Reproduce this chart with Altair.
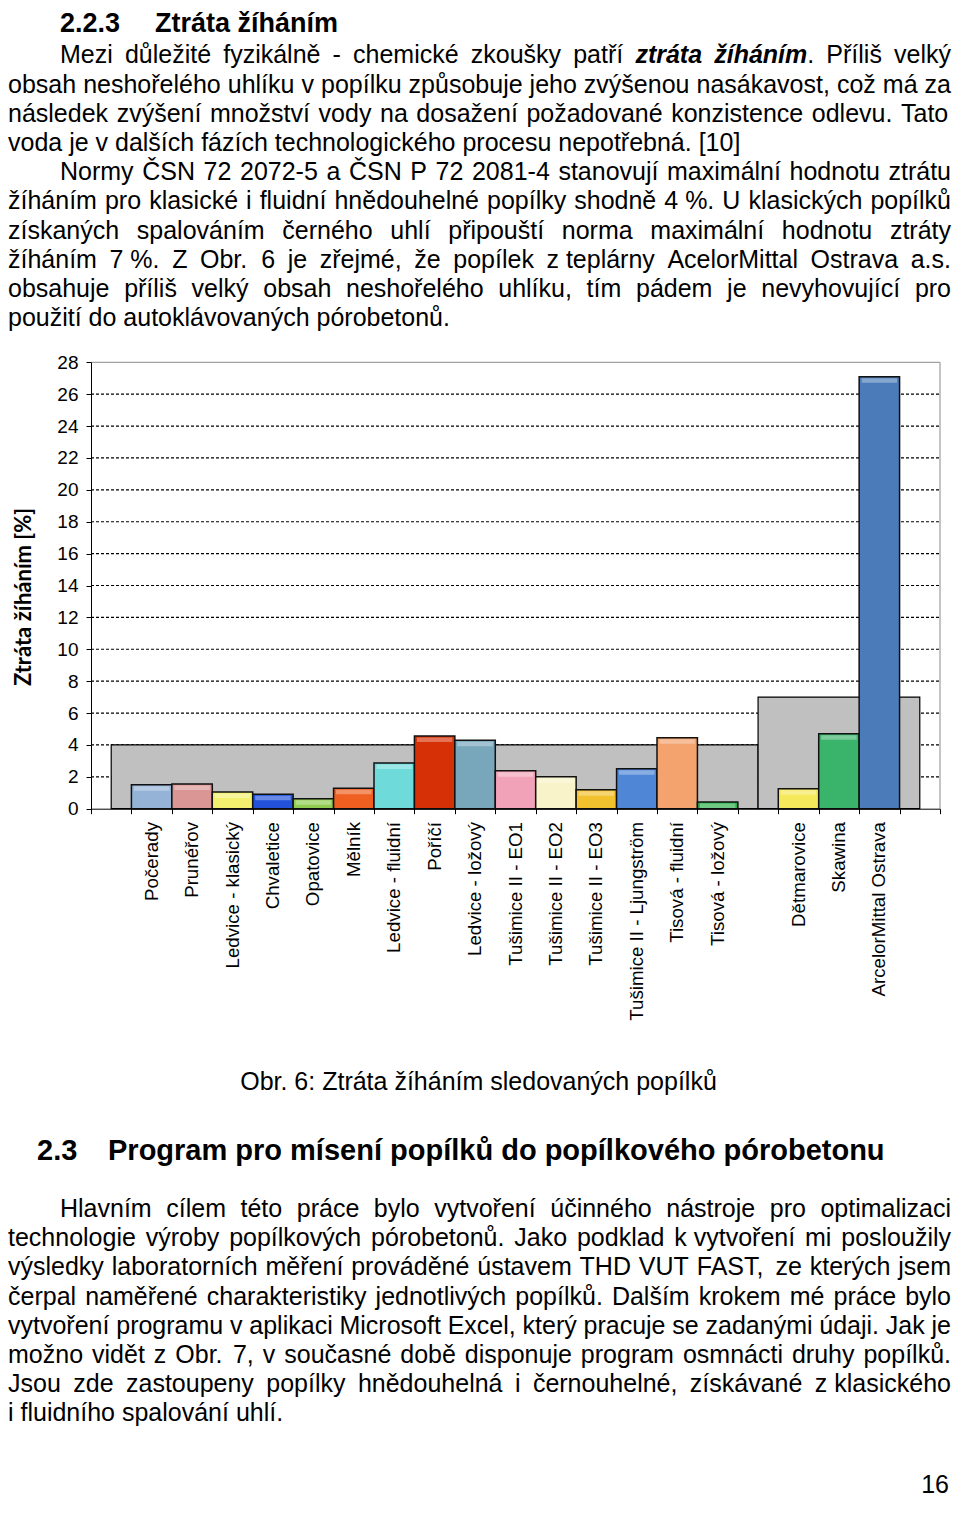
import re
import unicodedata
import pandas as pd
import altair as alt

# ------------------------------------------------------------------ chart data
categories = ["", "Počerady", "Prunéřov", "Ledvice - klasický", "Chvaletice", "Opatovice",
              "Mělník", "Ledvice - fluidní", "Poříčí", "Ledvice - ložový",
              "Tušimice II  - EO1", "Tušimice II - EO2", "Tušimice II - EO3",
              "Tušimice II - Ljungström", "Tisová - fluidní", "Tisová - ložový", "",
              "Dětmarovice", "Skawina", "ArcelorMittal Ostrava", ""]
loss_values = [None, 1.5, 1.55, 1.05, 0.9, 0.63, 1.28, 2.87, 4.56, 4.3, 2.38, 2.0,
               1.19, 2.5, 4.45, 0.42, None, 1.25, 4.7, 27.1, None]
bar_colors = [None, "#95b3d7", "#d99694", "#f2f06e", "#2152d9", "#8fcc4f", "#ef5f1f",
              "#6fdada", "#d63006", "#78a6bb", "#f2a2b8", "#f8f3c8", "#f2c12e",
              "#4f87d6", "#f4a26e", "#2bb04a", None, "#f5e85a", "#3bb46b", "#4b7cb9"]
limit_values = [4, 7]       # limit of loss on ignition: brown coal 4 %, black coal 7 %
limit_start = [0, 16]       # category (centre) where each limit band starts
limit_end = [16, 20]        # category (centre) where each limit band ends
y_ticks = list(range(0, 29, 2))
grid_values = list(range(2, 27, 2))
y_title = "Ztráta žíháním [%]"

# ------------------------------------------------------------------ page text
heading_1 = ["2.2.3", "Ztráta žíháním"]
paragraph_1 = [
    "Mezi důležité fyzikálně - chemické zkoušky patří **ztráta** **žíháním**. Příliš velký",
    "obsah neshořelého uhlíku v popílku způsobuje jeho zvýšenou nasákavost, což má za",
    "následek zvýšení množství vody na dosažení požadované konzistence odlevu. Tato",
    "voda je v dalších fázích technologického procesu nepotřebná. [10]",
]
paragraph_2 = [
    "Normy ČSN 72 2072-5 a ČSN P 72 2081-4 stanovují maximální hodnotu ztrátu",
    "žíháním pro klasické i fluidní hnědouhelné popílky shodně 4~%. U klasických popílků",
    "získaných spalováním černého uhlí připouští norma maximální hodnotu ztráty",
    "žíháním 7~%. Z Obr. 6 je zřejmé, že popílek z~teplárny AcelorMittal Ostrava a.s.",
    "obsahuje příliš velký obsah neshořelého uhlíku, tím pádem je nevyhovující pro",
    "použití do autoklávovaných pórobetonů.",
]
caption = "Obr. 6: Ztráta žíháním sledovaných popílků"
heading_2 = ["2.3", "Program pro mísení popílků do popílkového pórobetonu"]
paragraph_3 = [
    "Hlavním cílem této práce bylo vytvoření účinného nástroje pro optimalizaci",
    "technologie výroby popílkových pórobetonů. Jako podklad k~vytvoření mi posloužily",
    "výsledky laboratorních měření prováděné ústavem THD VUT FAST, ze kterých jsem",
    "čerpal naměřené charakteristiky jednotlivých popílků. Dalším krokem mé práce bylo",
    "vytvoření programu v aplikaci Microsoft Excel, který pracuje se zadanými údaji. Jak je",
    "možno vidět z Obr. 7, v současné době disponuje program osmnácti druhy popílků.",
    "Jsou zde zastoupeny popílky hnědouhelná i černouhelné, získávané z~klasického",
    "i fluidního spalování uhlí.",
]
page_number = "16"

# ------------------------------------------------------------------ layout
W, H = 944, 1492
FONT = "Liberation Sans"
BODY = 25


def cx(px):          # page x -> chart x
    return px - 8


def cy(py):          # page y -> chart y
    return py - 8


REG = {" ": 278, "%": 889, "(": 333, ")": 333, ",": 278, "-": 333, ".": 278, ":": 278,
       "[": 278, "]": 278,
       "A": 667, "B": 667, "C": 722, "D": 722, "E": 667, "F": 611, "G": 778, "H": 722,
       "I": 278, "J": 500, "K": 667, "L": 556, "M": 833, "N": 722, "O": 778, "P": 667,
       "Q": 778, "R": 722, "S": 667, "T": 611, "U": 722, "V": 667, "W": 944, "X": 667,
       "Y": 667, "Z": 611,
       "a": 556, "b": 556, "c": 500, "d": 556, "e": 556, "f": 278, "g": 556, "h": 556,
       "i": 222, "j": 222, "k": 500, "l": 222, "m": 833, "n": 556, "o": 556, "p": 556,
       "q": 556, "r": 333, "s": 500, "t": 278, "u": 556, "v": 500, "w": 722, "x": 500,
       "y": 500, "z": 500}
BOLD = {" ": 278, "%": 889, ",": 278, "-": 333, ".": 278, "[": 333, "]": 333,
        "a": 556, "b": 611, "c": 556, "d": 611, "e": 556, "f": 333, "g": 611, "h": 611,
        "i": 278, "j": 278, "k": 556, "l": 278, "m": 889, "n": 611, "o": 611, "p": 611,
        "q": 611, "r": 389, "s": 556, "t": 333, "u": 611, "v": 556, "w": 778, "x": 556,
        "y": 556, "z": 500, "P": 667, "Z": 611}


def seg_width(text, bold, size):
    table = BOLD if bold else REG
    total = 0
    for ch in text:
        if not bold and ch in "íìîï":
            total += 278
            continue
        base = unicodedata.normalize("NFD", ch)[0]
        total += table.get(base, 556)
    return total * size / 1000.0


def layout_lines(lines, baselines, first_left, left, right, size, rows):
    for k, (line, base_y) in enumerate(zip(lines, baselines)):
        words = []
        for tok in line.split(" "):
            segs = []
            for part in re.split(r"(\*\*.+?\*\*)", tok):
                if not part:
                    continue
                if part.startswith("**"):
                    segs.append((part[2:-2].replace("~", " "), "bi"))
                else:
                    segs.append((part.replace("~", " "), "reg"))
            words.append(segs)
        widths = [sum(seg_width(t, s == "bi", size) for t, s in w) for w in words]
        x0 = first_left if k == 0 else left
        if k == len(lines) - 1 or len(words) == 1:
            gap = seg_width(" ", False, size)
        else:
            gap = (right - x0 - sum(widths)) / (len(words) - 1)
        x = x0
        for w, wd in zip(words, widths):
            xx = x
            for t, s in w:
                rows.append({"x": xx, "y": base_y, "text": t, "style": s})
                xx += seg_width(t, s == "bi", size)
            x += wd + gap


rows = []
RIGHT = W - 1
top_base = [cy(63.3 + 29.2 * i) for i in range(len(paragraph_1) + len(paragraph_2))]
layout_lines(paragraph_1, top_base[:4], cx(60), 0, RIGHT, BODY, rows)
layout_lines(paragraph_2, top_base[4:], cx(60), 0, RIGHT, BODY, rows)
bottom_base = [cy(1217 + 29.2 * i) for i in range(len(paragraph_3))]
layout_lines(paragraph_3, bottom_base, cx(60), 0, RIGHT, BODY, rows)
text_df = pd.DataFrame(rows)
reg_df = text_df[text_df["style"] == "reg"]
bi_df = text_df[text_df["style"] == "bi"]

head_df = pd.DataFrame([
    {"x": cx(60), "y": 24, "text": heading_1[0], "size": 27},
    {"x": cx(155), "y": 24, "text": heading_1[1], "size": 27},
    {"x": cx(37), "y": cy(1160), "text": heading_2[0], "size": 29},
    {"x": cx(108), "y": cy(1160), "text": heading_2[1], "size": 29},
])
cap_df = pd.DataFrame([{"x": cx(478.5), "y": cy(1090), "text": caption}])
page_df = pd.DataFrame([{"x": W - 3, "y": H - 7, "text": page_number}])

# ------------------------------------------------------------------ chart frames
bar_df = pd.DataFrame([
    {"x0": i, "x1": i + 1, "v": v, "base": 0, "color": c}
    for i, (v, c) in enumerate(zip(loss_values, bar_colors)) if v is not None
])
label_df = pd.DataFrame([
    {"xc": i + 0.5, "label": n} for i, n in enumerate(categories) if n
])
limit_df = pd.DataFrame({
    "x0": [s + 0.5 for s in limit_start],
    "x1": [e + 0.5 for e in limit_end],
    "v": limit_values,
    "base": [0] * len(limit_values),
})
grid_df = pd.DataFrame({"g": grid_values, "x0": 0, "x1": len(categories)})
frame_top_df = pd.DataFrame({"g": [y_ticks[-1]], "x0": [0], "x1": [len(categories)]})
frame_right_df = pd.DataFrame({"x0": [len(categories)], "y0": [0], "y1": [y_ticks[-1]]})

X0_PX, X1_PX = 83, 932
Y0_PX, Y1_PX = 800.7, 354.3
XS = alt.Scale(domain=[0, len(categories)], range=[X0_PX, X1_PX], nice=False, zero=False)
YS = alt.Scale(domain=[0, y_ticks[-1]], range=[Y0_PX, Y1_PX], nice=False, zero=False)
AX_X = alt.Axis(values=list(range(len(categories) + 1)), labels=False, title=None,
                grid=False, tickSize=5, tickColor="black", tickWidth=1,
                domainColor="black", domainWidth=1, offset=Y0_PX - H, zindex=1)
AX_Y = alt.Axis(values=y_ticks, title=None, grid=False, tickSize=5,
                tickColor="black", tickWidth=1, domainColor="black",
                domainWidth=1, labelFont=FONT, labelFontSize=19,
                labelColor="black", labelPadding=8, offset=-X0_PX, zindex=1)


def xq(field):
    return alt.X(field, scale=XS, axis=AX_X)


def yq(field):
    return alt.Y(field, scale=YS, axis=AX_Y)


grid = alt.Chart(grid_df).mark_rule(color="black", strokeWidth=1.2, strokeDash=[3, 2]).encode(
    x=xq("x0:Q"), x2="x1:Q", y=yq("g:Q"))
frame_top = alt.Chart(frame_top_df).mark_rule(color="#8a8a8a", strokeWidth=1).encode(
    x=xq("x0:Q"), x2="x1:Q", y=yq("g:Q"))
frame_right = alt.Chart(frame_right_df).mark_rule(color="#8a8a8a", strokeWidth=1).encode(
    x=xq("x0:Q"), y=yq("y0:Q"), y2="y1:Q")
limits = alt.Chart(limit_df).mark_rect(fill="#c0c0c0", stroke="black", strokeWidth=1.2).encode(
    x=xq("x0:Q"), x2="x1:Q", y=yq("v:Q"), y2="base:Q")
bars = alt.Chart(bar_df).mark_rect(stroke="#111111", strokeWidth=1.5).encode(
    x=xq("x0:Q"), x2="x1:Q", y=yq("v:Q"), y2="base:Q",
    fill=alt.Fill("color:N", scale=None),
)
bevel = alt.Chart(bar_df).mark_rect(fill="white", opacity=0.32, yOffset=1.5, y2Offset=6,
                                    xOffset=2.5, x2Offset=-2.5).encode(
    x=xq("x0:Q"), x2="x1:Q", y=yq("v:Q"), y2="v:Q")

labels = alt.Chart(label_df).mark_text(angle=270, align="right", baseline="middle",
                                       font=FONT, fontSize=18.7, color="black").encode(
    x=xq("xc:Q"),
    y=alt.value(cy(822)),
    text="label:N")

ytitle = alt.Chart(pd.DataFrame({"t": [y_title]})).mark_text(
    angle=270, align="center", baseline="middle", font="Lato", fontWeight="bold",
    fontSize=22, color="black").encode(
    x=alt.value(16), y=alt.value(cy(597)), text="t:N")


def text_layer(df, **kw):
    return alt.Chart(df).mark_text(align=kw.pop("align", "left"), baseline="alphabetic",
                                   font=FONT, color="black", **kw).encode(
        x=alt.X("x:Q", scale=None),
        y=alt.Y("y:Q", scale=None),
        text="text:N")


body = text_layer(reg_df, fontSize=BODY)
body_bi = text_layer(bi_df, fontSize=BODY, fontWeight="bold", fontStyle="italic")
heads = alt.Chart(head_df).mark_text(align="left", baseline="alphabetic", font=FONT,
                                     fontWeight="bold", color="black").encode(
    x=alt.X("x:Q", scale=None),
    y=alt.Y("y:Q", scale=None),
    size=alt.Size("size:Q", scale=None, legend=None),
    text="text:N")
cap = text_layer(cap_df, fontSize=BODY, align="center")
page = text_layer(page_df, fontSize=BODY, align="right")

chart = alt.layer(
    grid, frame_top, frame_right, limits, bars, bevel,
    labels, ytitle, body, body_bi, heads, cap, page,
).properties(
    width=W, height=H,
    autosize=alt.AutoSizeParams(type="none"),
    padding=0,
    background="white",
).configure_view(stroke=None)

chart.save("out.html", embed_options={"renderer": "svg", "actions": False})
